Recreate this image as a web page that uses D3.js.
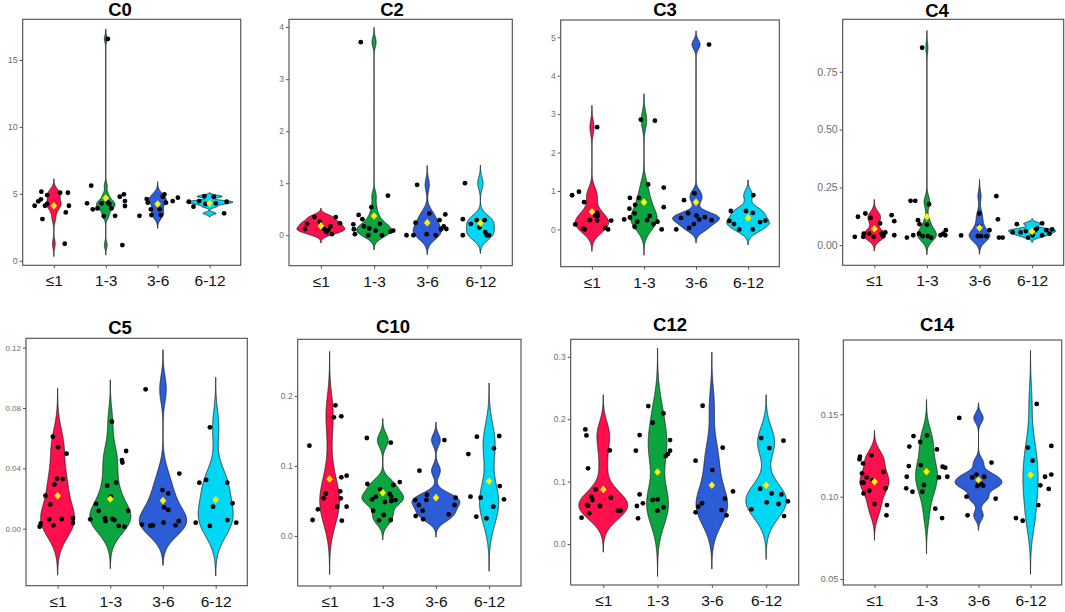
<!DOCTYPE html>
<html>
<head>
<meta charset="utf-8">
<script src="https://cdn.jsdelivr.net/npm/d3@7/dist/d3.min.js"></script>
<style>
  body { margin: 0; background: #fff; }
  svg { display: block; font-family: "Liberation Sans", Arial, sans-serif; }
</style>
</head>
<body>
<div id="root"></div>
<script>
// age groups and their fills
const groups = ['≤1', '1-3', '3-6', '6-12'];
const fills = ['#FF0F4B', '#0AA53E', '#2D5DD6', '#00D7F4'];

// each point is [horizontal jitter (in steps), value]
const C0_pts = [
  [[-0.37,4.11],[-0.30,4.44],[-0.25,4.59],[-0.24,5.16],[-0.13,4.91],[-0.17,4.11],[-0.22,3.11],[-0.13,4.24],[0.12,5.08],[0.27,5.08],[0.29,4.11],[0.23,3.61],[0.21,1.27]],
  [[-0.36,4.29],[-0.28,5.61],[-0.25,3.84],[-0.16,3.91],[-0.08,4.29],[-0.04,3.34],[0.04,4.36],[0.07,4.24],[0.11,3.91],[0.18,3.36],[0.27,4.78],[0.35,4.96],[0.37,4.46],[0.37,4.09],[0.32,1.17],[0.04,16.57]],
  [[-0.35,3.36],[-0.21,4.61],[-0.19,4.34],[-0.13,3.84],[-0.12,3.41],[0.04,3.84],[0.06,3.41],[0.10,4.78],[0.13,4.96],[0.16,4.34],[0.29,4.46],[0.39,4.71]],
  [[-0.40,4.41],[-0.31,4.04],[-0.20,4.46],[-0.10,4.83],[-0.08,4.24],[0.08,4.78],[0.12,4.29],[0.33,4.41],[0.28,3.54]]
];
const C0_means = [4.11, 4.68, 4.24, 4.29];
const C0_ticks = [0, 5, 10, 15];

const C2_pts = [
  [[-0.30,0.12],[-0.26,0.22],[-0.12,0.35],[-0.02,0.26],[0.06,0.12],[0.10,0.06],[0.18,0.17],[0.21,0.02],[0.28,0.35],[0.36,0.23],[0.14,0.10]],
  [[-0.25,3.71],[-0.29,0.39],[-0.22,0.31],[-0.39,0.21],[-0.38,0.115],[-0.36,0.02],[-0.19,0.17],[-0.11,0.0],[-0.09,0.13],[-0.05,0.54],[0.03,0.09],[0.11,0.22],[0.15,0.0],[0.26,0.76],[0.31,0.07],[0.36,0.09]],
  [[-0.39,0.0],[-0.26,0.0],[-0.22,0.24],[-0.19,0.97],[-0.01,0.02],[0.04,0.42],[0.16,0.0],[0.23,0.29],[0.26,0.115],[0.31,0.17],[0.34,0.40],[0.36,0.12]],
  [[-0.29,1.0],[-0.33,0.31],[-0.33,0.0],[-0.18,0.22],[-0.07,0.29],[-0.02,0.15],[0.08,0.29],[0.09,0.06],[0.12,0.0],[0.16,0.0]]
];
const C2_means = [0.18, 0.37, 0.24, 0.23];
const C2_ticks = [0, 1, 2, 3, 4];

const C3_pts = [
  [[-0.38,0.89],[-0.25,0.98],[-0.15,0.71],[-0.32,0.13],[-0.17,0.02],[-0.14,0.0],[-0.04,0.24],[0.10,0.43],[0.11,0.35],[0.10,0.23],[0.06,0.36],[0.25,0.04],[0.31,0.0],[0.37,0.23],[0.10,2.66]],
  [[-0.38,0.26],[-0.27,0.82],[-0.28,0.54],[-0.18,0.42],[-0.17,0.64],[-0.27,0.31],[-0.18,0.07],[-0.13,0.20],[-0.10,0.82],[-0.06,2.86],[0.06,0.24],[0.08,1.17],[0.11,0.35],[0.18,0.14],[0.21,2.83],[0.26,0.20],[0.34,0.0],[0.38,0.58],[0.38,1.09]],
  [[-0.38,0.0],[-0.29,0.30],[-0.23,0.76],[-0.15,0.42],[-0.13,0.04],[-0.04,0.14],[-0.03,0.94],[0.01,0.36],[0.06,0.26],[0.17,0.32],[0.30,0.24],[0.25,4.81]],
  [[-0.33,0.48],[-0.36,0.22],[-0.27,0.14],[-0.17,0.0],[-0.04,0.48],[0.09,0.43],[0.09,0.0],[0.10,0.89],[0.23,0.19],[0.33,0.23]]
];
const C3_means = [0.46, 0.71, 0.71, 0.30];
const C3_ticks = [0, 1, 2, 3, 4, 5];

const C4_pts = [
  [[-0.37,0.036],[-0.31,0.123],[-0.21,0.036],[-0.20,0.050],[-0.17,0.137],[-0.10,0.050],[-0.07,0.118],[-0.01,0.036],[0.11,0.094],[0.14,0.050],[0.17,0.039],[0.21,0.055],[0.33,0.130],[0.38,0.104],[0.38,0.043]],
  [[-0.38,0.033],[-0.31,0.192],[-0.22,0.192],[-0.26,0.043],[-0.17,0.108],[-0.14,0.091],[-0.15,0.050],[-0.08,0.039],[0.0,0.089],[0.04,0.177],[0.02,0.039],[0.08,0.033],[-0.09,0.854],[0.26,0.043],[0.31,0.050],[0.36,0.065],[0.35,0.043]],
  [[-0.35,0.042],[-0.03,0.039],[0.0,0.137],[0.03,0.039],[0.13,0.039],[0.19,0.065],[0.0,0.082],[0.32,0.212],[0.35,0.112],[0.37,0.033],[0.44,0.033]],
  [[-0.37,0.055],[-0.29,0.091],[-0.22,0.055],[-0.12,0.061],[-0.08,0.033],[0.01,0.043],[0.06,0.065],[0.09,0.072],[0.19,0.094],[0.19,0.043],[0.27,0.065],[0.33,0.050],[0.38,0.068]]
];
const C4_means = [0.071, 0.123, 0.075, 0.059];
const C4_ticks = [0, 0.25, 0.5, 0.75];

const C5_pts = [
  [[-0.34,0.0013],[-0.32,0.0035],[-0.23,0.0219],[-0.14,0.0161],[-0.16,0.0062],[-0.09,0.0610],[-0.06,0.0294],[-0.01,0.0331],[0.01,0.0539],[-0.08,0.0022],[0.08,0.0064],[0.10,0.0329],[0.17,0.0497],[0.29,0.0069],[0.29,0.0038]],
  [[-0.38,0.0062],[-0.27,0.0164],[-0.22,0.0119],[-0.10,0.0069],[-0.09,0.0051],[-0.06,0.0285],[0.03,0.0709],[0.01,0.0212],[0.04,0.0064],[0.08,0.0057],[0.11,0.0305],[0.16,0.0018],[0.22,0.0455],[0.23,0.0438],[0.30,0.0515],[0.27,0.0013],[0.34,0.0119]],
  [[-0.33,0.0924],[-0.40,0.0027],[-0.24,0.0020],[-0.19,0.0022],[-0.01,0.0256],[0.01,0.0040],[0.02,0.0141],[0.10,0.0234],[0.10,0.0124],[0.24,0.0022],[0.30,0.0051],[0.31,0.0365]],
  [[-0.38,0.0040],[-0.31,0.0305],[-0.18,0.0323],[-0.11,0.0672],[-0.11,0.0018],[-0.05,0.0146],[0.22,0.0305],[0.22,0.0057],[0.32,0.0168],[0.39,0.0040]]
];
const C5_means = [0.0219, 0.0197, 0.0186, 0.0192];
const C5_ticks = [0, 0.04, 0.08, 0.12];

const C10_pts = [
  [[-0.38,0.129],[-0.32,0.0229],[-0.22,0.0381],[-0.11,0.0538],[-0.07,0.0605],[0.08,0.1695],[0.11,0.1867],[0.14,0.0419],[0.20,0.0638],[0.21,0.0538],[0.22,0.171],[0.22,0.0838],[0.23,0.0219],[0.32,0.0862],[0.32,0.0419]],
  [[-0.30,0.14],[-0.29,0.0743],[-0.20,0.0524],[-0.18,0.0362],[-0.13,0.0562],[-0.07,0.0224],[-0.05,0.0667],[0.02,0.030],[0.04,0.0486],[0.13,0.060],[0.15,0.1333],[0.15,0.0229],[0.16,0.050],[0.20,0.0729],[0.16,0.0562],[0.24,0.0514],[0.32,0.0771]],
  [[-0.39,0.0514],[-0.38,0.0286],[-0.31,0.0933],[-0.32,0.0443],[-0.25,0.0362],[-0.24,0.0238],[-0.17,0.0586],[-0.18,0.0514],[0.16,0.1371],[0.24,0.031],[0.37,0.0548],[0.35,0.0443]],
  [[-0.39,0.117],[-0.35,0.0562],[-0.23,0.1419],[-0.24,0.0276],[-0.16,0.0548],[-0.05,0.0252],[0.08,0.0419],[0.09,0.1252],[0.19,0.1429],[0.20,0.0714],[0.28,0.0524]]
];
const C10_means = [0.0814, 0.0619, 0.0548, 0.0781];
const C10_ticks = [0, 0.1, 0.2];

const C12_pts = [
  [[-0.40,0.0422],[-0.33,0.1836],[-0.31,0.174],[-0.28,0.1212],[-0.30,0.0625],[-0.26,0.0491],[-0.28,0.0614],[-0.22,0.0758],[-0.20,0.0705],[-0.14,0.0875],[-0.06,0.0609],[0.12,0.150],[0.14,0.0742],[0.27,0.0534],[0.32,0.0534]],
  [[-0.40,0.1495],[-0.38,0.0609],[-0.36,0.0411],[-0.33,0.1746],[-0.33,0.0795],[-0.27,0.0651],[-0.17,0.221],[-0.09,0.1943],[-0.09,0.0705],[0.0,0.0715],[0.0,0.0534],[0.11,0.0587],[0.11,0.2093],[0.15,0.1409],[0.19,0.1441],[0.23,0.1665],[0.23,0.1495]],
  [[-0.30,0.1335],[-0.30,0.0507],[-0.25,0.0598],[-0.18,0.0651],[-0.17,0.2215],[0.01,0.1185],[0.18,0.0544],[0.20,0.1543],[0.24,0.0726],[0.27,0.0459],[0.39,0.0843]],
  [[-0.27,0.0555],[-0.11,0.0886],[-0.09,0.1698],[0.01,0.0667],[0.06,0.1537],[0.10,0.0811],[0.23,0.0641],[0.28,0.0795],[0.32,0.1655],[0.33,0.0448],[0.40,0.0683]]
];
const C12_means = [0.0875, 0.1153, 0.094, 0.094];
const C12_ticks = [0, 0.1, 0.2, 0.3];

const C14_pts = [
  [[-0.29,0.1227],[-0.28,0.1243],[-0.22,0.1202],[-0.24,0.1142],[-0.21,0.1085],[-0.24,0.1085],[-0.21,0.102],[-0.15,0.1117],[-0.10,0.1036],[-0.06,0.1251],[-0.04,0.1101],[0.0,0.0955],[0.17,0.115],[0.21,0.1051],[0.24,0.0949],[0.23,0.0887]],
  [[-0.39,0.1051],[-0.34,0.1186],[-0.33,0.1304],[-0.38,0.1121],[-0.25,0.1368],[-0.27,0.103],[-0.12,0.1332],[-0.11,0.1192],[-0.08,0.103],[-0.05,0.1071],[0.01,0.1372],[0.17,0.0927],[0.20,0.1287],[0.24,0.1117],[0.31,0.1182],[0.30,0.087],[0.36,0.1176],[0.40,0.1121]],
  [[-0.37,0.1478],[-0.23,0.100],[-0.21,0.0887],[-0.12,0.1117],[-0.04,0.1134],[-0.02,0.1065],[0.01,0.1085],[0.06,0.1075],[0.09,0.1067],[0.11,0.1121],[0.25,0.1207],[0.33,0.0988]],
  [[-0.28,0.087],[-0.15,0.0854],[-0.05,0.1298],[0.04,0.1219],[0.12,0.1563],[0.15,0.0949],[0.19,0.1069],[0.28,0.1121],[0.35,0.1047],[0.40,0.1134],[0.40,0.1308]]
];
const C14_means = [0.1091, 0.1152, 0.1101, 0.1132];
const C14_ticks = [0.05, 0.10, 0.15];

// panel layout: plot box [x0, y0, x1, y1], y limits, title anchor, tick label size
const panels = [
  {name: 'C0',  pts: C0_pts,  means: C0_means,  ticks: C0_ticks,  fmt: 'd',   lim: [-0.34, 18.04],   box: [22.7, 19.3, 240.7, 265.3],  title: [120, 16],   tf: 9},
  {name: 'C2',  pts: C2_pts,  means: C2_means,  ticks: C2_ticks,  fmt: 'd',   lim: [-0.585, 4.15],   box: [289, 19.3, 512.3, 265.7],   title: [392, 16],   tf: 8.5},
  {name: 'C3',  pts: C3_pts,  means: C3_means,  ticks: C3_ticks,  fmt: 'd',   lim: [-0.97, 5.45],    box: [560.7, 20, 779.3, 266.7],   title: [665, 16],   tf: 8.5},
  {name: 'C4',  pts: C4_pts,  means: C4_means,  ticks: C4_ticks,  fmt: '.2f', lim: [-0.087, 0.977],  box: [842.7, 19.3, 1063.7, 265.3], title: [937, 16.5], tf: 10.5},
  {name: 'C5',  pts: C5_pts,  means: C5_means,  ticks: C5_ticks,  fmt: '.2f', lim: [-0.0378, 0.1262], box: [26, 338.3, 247.3, 585.7],  title: [120, 334],  tf: 8},
  {name: 'C10', pts: C10_pts, means: C10_means, ticks: C10_ticks, fmt: '.1f', lim: [-0.0714, 0.281], box: [297.7, 339.3, 521, 586],   title: [393, 333],  tf: 8.5},
  {name: 'C12', pts: C12_pts, means: C12_means, ticks: C12_ticks, fmt: '.1f', lim: [-0.0657, 0.328], box: [570.7, 339.3, 798.7, 585], title: [670, 331],  tf: 8.5},
  {name: 'C14', pts: C14_pts, means: C14_means, ticks: C14_ticks, fmt: '.2f', lim: [0.0464, 0.1951], box: [843.3, 340, 1061.7, 585],  title: [937, 331],  tf: 9}
];

// R's bw.nrd0
function bandwidth(v) {
  const s = d3.deviation(v);
  const sorted = v.slice().sort(d3.ascending);
  const iqr = d3.quantileSorted(sorted, 0.75) - d3.quantileSorted(sorted, 0.25);
  let lo = Math.min(s, iqr / 1.34);
  if (!(lo > 0)) lo = s || Math.abs(sorted[0]) || 1;
  return 0.9 * lo * Math.pow(v.length, -0.2);
}

// gaussian kernel density, untrimmed (3 bandwidths past the data)
function density(v) {
  const bw = bandwidth(v);
  const lo = d3.min(v) - 3 * bw, hi = d3.max(v) + 3 * bw;
  const norm = 1 / (v.length * bw * Math.sqrt(2 * Math.PI));
  return d3.range(512).map(i => {
    const y = lo + (hi - lo) * i / 511;
    return [y, norm * d3.sum(v, x => Math.exp(-0.5 * ((y - x) / bw) ** 2))];
  });
}

// ggplot style diamond (shape 18)
const diamond = {
  draw(ctx, size) {
    const r = Math.sqrt(size) * 0.6;
    ctx.moveTo(0, -r * 1.15);
    ctx.lineTo(r, 0);
    ctx.lineTo(0, r * 1.15);
    ctx.lineTo(-r, 0);
    ctx.closePath();
  }
};

const svg = d3.select('#root')
  .append('svg')
  .attr('width', 1065)
  .attr('height', 612);

panels.forEach(p => {
  const [x0, y0, x1, y1] = p.box;
  const g = svg.append('g');

  const x = d3.scalePoint().domain(groups).range([x0, x1]).padding(0.6);
  const y = d3.scaleLinear().domain(p.lim).range([y1, y0]);
  const step = x.step();

  const dens = p.pts.map(grp => density(grp.map(d => d[1])));
  const maxD = d3.max(dens, c => d3.max(c, d => d[1]));

  // violins
  dens.forEach((curve, i) => {
    const cx = x(groups[i]);
    const area = d3.area()
      .y(d => y(d[0]))
      .x0(d => cx - d[1] / maxD * 0.45 * step)
      .x1(d => cx + d[1] / maxD * 0.45 * step);
    g.append('path')
      .attr('d', area(curve))
      .attr('fill', fills[i])
      .attr('stroke', '#1a1a1a')
      .attr('stroke-width', 0.8);
  });

  // jittered points
  p.pts.forEach((grp, i) => {
    g.selectAll(null)
      .data(grp)
      .enter()
      .append('circle')
      .attr('cx', d => x(groups[i]) + d[0] * step)
      .attr('cy', d => y(d[1]))
      .attr('r', 2.4)
      .attr('fill', '#000');
  });

  // means
  g.selectAll(null)
    .data(p.means)
    .enter()
    .append('path')
    .attr('transform', (d, i) => `translate(${x(groups[i])},${y(d)})`)
    .attr('d', d3.symbol(diamond, 30))
    .attr('fill', '#FFF200');

  // panel border
  g.append('rect')
    .attr('x', x0).attr('y', y0)
    .attr('width', x1 - x0).attr('height', y1 - y0)
    .attr('fill', 'none')
    .attr('stroke', '#4a4a4a')
    .attr('stroke-width', 1.1);

  // axes
  const yAxis = g.append('g')
    .attr('transform', `translate(${x0},0)`)
    .call(d3.axisLeft(y).tickValues(p.ticks).tickSize(3).tickPadding(2).tickFormat(d3.format(p.fmt)));
  yAxis.select('.domain').remove();
  yAxis.selectAll('line').attr('stroke', '#555');
  yAxis.selectAll('text').attr('fill', '#6e6e6e').style('font-size', p.tf + 'px');

  const xAxis = g.append('g')
    .attr('transform', `translate(0,${y1})`)
    .call(d3.axisBottom(x).tickSize(3).tickPadding(7));
  xAxis.select('.domain').remove();
  xAxis.selectAll('line').attr('stroke', '#555');
  xAxis.selectAll('text').attr('fill', '#111').style('font-size', '15.5px');

  g.append('text')
    .attr('x', p.title[0])
    .attr('y', p.title[1])
    .attr('text-anchor', 'middle')
    .style('font-size', '18.5px')
    .style('font-weight', 'bold')
    .text(p.name);
});
</script>
</body>
</html>
